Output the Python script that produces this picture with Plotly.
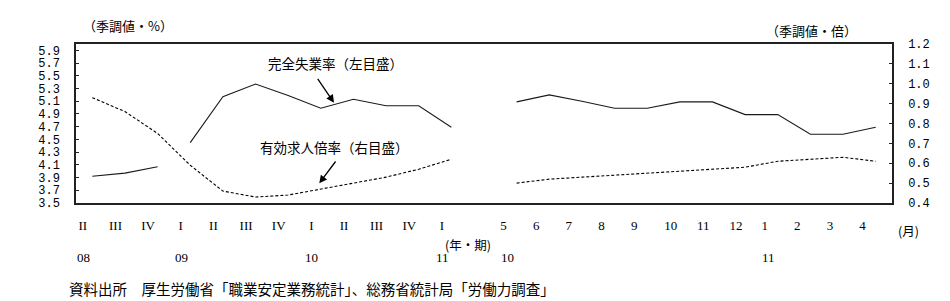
import plotly.graph_objects as go

# ---------------- data ----------------
quarter_labels = ["II", "III", "IV", "I", "II", "III", "IV", "I", "II", "III", "IV", "I"]
month_labels = ["5", "6", "7", "8", "9", "10", "11", "12", "1", "2", "3", "4"]
year_labels = ["08", "09", "10", "11", "10", "11"]
year_index = [0, 3, 7, 11, 13, 21]

# 完全失業率 (%), left axis
unemp_quarterly = [3.92, 3.97, 4.07, 4.45, 5.17, 5.37, 5.19, 4.99, 5.13, 5.03, 5.03, 4.69]
unemp_break_after = 2  # line not drawn between 08 IV and 09 I
unemp_monthly = [5.09, 5.20, 5.10, 4.99, 4.99, 5.09, 5.09, 4.89, 4.89, 4.58, 4.58, 4.69]

# 有効求人倍率 (倍), right axis
ratio_quarterly = [0.93, 0.86, 0.75, 0.59, 0.46, 0.43, 0.44, 0.47, 0.50, 0.53, 0.57, 0.62]
ratio_monthly = [0.50, 0.52, 0.53, 0.54, 0.55, 0.56, 0.57, 0.58, 0.61, 0.62, 0.63, 0.61]

left_ticks = [3.5, 3.7, 3.9, 4.1, 4.3, 4.5, 4.7, 4.9, 5.1, 5.3, 5.5, 5.7, 5.9]
right_ticks = [0.4, 0.5, 0.6, 0.7, 0.8, 0.9, 1.0, 1.1, 1.2]

# ---------------- positions ----------------
nq = len(quarter_labels)
xq = list(range(nq))
xm = list(range(nq + 1, nq + 1 + len(month_labels)))

# break in the quarterly unemployment line
xq_u = xq[:unemp_break_after + 1] + [None] + xq[unemp_break_after + 1:]
yq_u = unemp_quarterly[:unemp_break_after + 1] + [None] + unemp_quarterly[unemp_break_after + 1:]

W, H = 950, 301
L, R, T, B = 76, 892, 44, 203


def px(xp):
    return (xp - L) / (R - L)


def py(yp):
    return (B - yp) / (B - T)


SOLID = "#1a1a1a"
JP = "Noto Sans CJK JP"
SERIF = "Liberation Serif"

fig = go.Figure()
fig.add_trace(go.Scatter(x=xq_u, y=yq_u, mode="lines", connectgaps=False,
                         line=dict(color=SOLID, width=1.1), yaxis="y"))
fig.add_trace(go.Scatter(x=xm, y=unemp_monthly, mode="lines",
                         line=dict(color=SOLID, width=1.1), yaxis="y"))
fig.add_trace(go.Scatter(x=xq, y=ratio_quarterly, mode="lines",
                         line=dict(color="#000000", width=1.1, dash="3px,2px"), yaxis="y2"))
fig.add_trace(go.Scatter(x=xm, y=ratio_monthly, mode="lines",
                         line=dict(color="#000000", width=1.1, dash="3px,2px"), yaxis="y2"))

# x tick labels (shifted slightly left like the original text boxes)
tickvals = [i - 0.29 for i in xq] + [
    x - (0.40 if len(lbl) == 1 else 0.28) for x, lbl in zip(xm, month_labels)]
ticktext = quarter_labels + month_labels

annotations = []
# year labels
for lbl, idx in zip(year_labels, year_index):
    annotations.append(dict(x=idx - 0.28, xref="x", y=py(257.7), yref="paper",
                            text=lbl, showarrow=False, xanchor="center", yanchor="middle",
                            font=dict(family=SERIF, size=13, color="#000")))

texts = [
    ("（季調値・%）", 127.5, 25.7, 13),
    ("（季調値・倍）", 811.5, 30.7, 13),
    ("完全失業率（左目盛）", 335, 63.3, 13.5),
    ("有効求人倍率（右目盛）", 334, 147.3, 13.5),
    ("(年・期)", 467.5, 244, 12.5),
    ("(月)", 908.5, 230, 12.5),
]
for t, x, y, s in texts:
    annotations.append(dict(x=px(x), xref="paper", y=py(y), yref="paper", text=t,
                            showarrow=False, xanchor="center", yanchor="middle",
                            font=dict(family=JP, size=s, color="#000")))

annotations.append(dict(x=px(67), xref="paper", y=py(288), yref="paper",
                        text="資料出所　厚生労働省「職業安定業務統計」、総務省統計局「労働力調査」",
                        showarrow=False, xanchor="left", yanchor="middle",
                        font=dict(family=JP, size=14.5, color="#000")))

# arrows
for (tx, ty, hx, hy) in [(316.7, 77.3, 334, 102.7), (336.7, 160, 319.3, 183.3)]:
    annotations.append(dict(x=px(hx), y=py(hy), xref="paper", yref="paper",
                            ax=tx - hx, ay=ty - hy, text="", showarrow=True,
                            arrowhead=2, arrowsize=1.2, arrowwidth=1.3, arrowcolor="#000"))

fig.update_layout(
    width=W, height=H,
    margin=dict(l=L, r=W - R, t=T, b=H - B),
    paper_bgcolor="white", plot_bgcolor="white",
    showlegend=False,
    xaxis=dict(range=[-0.5, nq + len(month_labels) + 0.5], tickmode="array",
               tickvals=tickvals, ticktext=ticktext, ticks="", showgrid=False,
               zeroline=False, showline=True, mirror=True, linecolor="#222", linewidth=1.5,
               tickfont=dict(family=SERIF, size=13, color="#000"), ticklabelstandoff=10),
    yaxis=dict(range=[3.5, 6.0], tickmode="array", tickvals=left_ticks,
               ticktext=[f"{v:.1f}" for v in left_ticks], ticks="inside", ticklen=3,
               tickcolor="#222", showgrid=False, zeroline=False, showline=True,
               linecolor="#222", linewidth=1.5, ticklabelstandoff=12,
               tickfont=dict(family="Liberation Mono", size=12, color="#000")),
    yaxis2=dict(range=[0.4, 1.2], overlaying="y", side="right", tickmode="array",
                tickvals=right_ticks, ticktext=[f"{v:.1f}" for v in right_ticks],
                ticks="inside", ticklen=3, tickcolor="#222", showgrid=False,
                zeroline=False, showline=True, linecolor="#222", linewidth=1.5,
                ticklabelstandoff=12,
                tickfont=dict(family="Liberation Mono", size=12, color="#000")),
    annotations=annotations,
)

fig.write_html("out.html")
